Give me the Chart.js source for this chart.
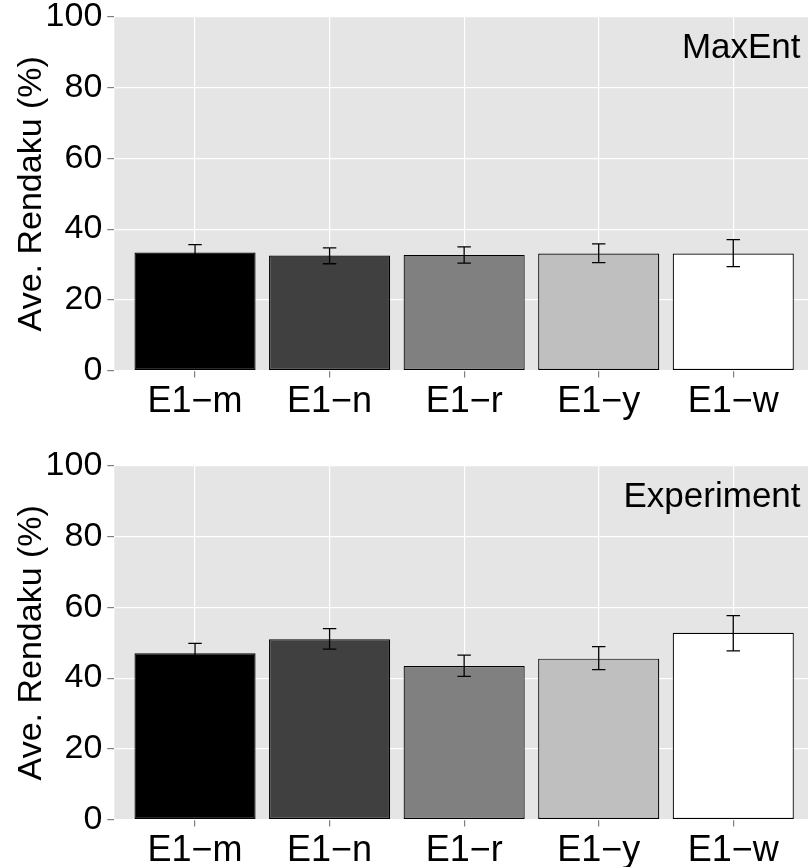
<!DOCTYPE html>
<html><head><meta charset="utf-8">
<script src="https://cdn.jsdelivr.net/npm/chart.js@4"></script>
<style>
html,body{margin:0;padding:0;overflow:hidden;background:#fff;width:808px;height:867px}
.w{position:absolute;left:0;width:814px;height:430px}
canvas{display:block}
</style></head><body>
<div class="w" style="top:0"><canvas id="c1" width="814" height="430"></canvas></div>
<div class="w" style="top:449px"><canvas id="c2" width="814" height="430"></canvas></div>
<script>
const categories = ['E1\u2212m','E1\u2212n','E1\u2212r','E1\u2212y','E1\u2212w'];
const barColors = ['#000000','#404040','#808080','#BFBFBF','#FFFFFF'];
const maxentMeans = [33.4, 32.5, 32.7, 33.1, 33.1];
const maxentLow   = [31.2, 30.2, 30.4, 30.5, 29.4];
const maxentHigh  = [35.6, 34.7, 35.0, 35.8, 37.0];
const expMeans = [47.0, 51.0, 43.4, 45.5, 52.8];
const expLow   = [44.2, 48.2, 40.5, 42.4, 47.7];
const expHigh  = [49.8, 54.0, 46.5, 48.9, 57.7];
const yTickLabels = [0, 20, 40, 60, 80, 100];
const panelLabels = ['MaxEnt', 'Experiment'];
const yTitle = 'Ave. Rendaku (%)';

Chart.defaults.font.family = "'Liberation Sans', Arial, sans-serif";
Chart.defaults.color = '#000000';

function makeChart(id, means, low, high, label) {
  const bgPlugin = {
    id: 'panelBg',
    beforeDraw(chart) {
      const {ctx, chartArea: a} = chart;
      ctx.save();
      ctx.fillStyle = '#E5E5E5';
      ctx.fillRect(a.left, a.top, a.right - a.left, a.bottom - a.top);
      ctx.restore();
    }
  };
  const errPlugin = {
    id: 'errBars',
    afterDatasetsDraw(chart) {
      const {ctx} = chart;
      const xs = chart.scales.x, ys = chart.scales.y;
      ctx.save();
      ctx.strokeStyle = '#000000';
      ctx.lineWidth = 1.3;
      for (let i = 0; i < means.length; i++) {
        const xc = xs.getPixelForValue(i + 1);
        const x0 = xs.getPixelForValue(i + 1 - 0.05);
        const x1 = xs.getPixelForValue(i + 1 + 0.05);
        const yl = ys.getPixelForValue(low[i]);
        const yh = ys.getPixelForValue(high[i]);
        ctx.beginPath();
        ctx.moveTo(xc, yl); ctx.lineTo(xc, yh);
        ctx.moveTo(x0, yl); ctx.lineTo(x1, yl);
        ctx.moveTo(x0, yh); ctx.lineTo(x1, yh);
        ctx.stroke();
      }
      ctx.restore();
    }
  };
  const labelPlugin = {
    id: 'panelLabel',
    afterDraw(chart) {
      const {ctx} = chart;
      const xs = chart.scales.x, ys = chart.scales.y;
      ctx.save();
      ctx.font = "35px 'Liberation Sans', Arial, sans-serif";
      ctx.fillStyle = '#000000';
      ctx.textAlign = 'right';
      ctx.textBaseline = 'alphabetic';
      ctx.fillText(label, xs.getPixelForValue(5.5), ys.getPixelForValue(88.5));
      ctx.restore();
    }
  };
  return new Chart(document.getElementById(id), {
    type: 'bar',
    data: {
      datasets: [{
        data: means.map((v, i) => ({x: i + 1, y: v})),
        backgroundColor: barColors,
        borderColor: '#000000',
        borderWidth: 1.2,
        borderSkipped: false,
        barPercentage: 0.9,
        categoryPercentage: 1.0
      }]
    },
    options: {
      responsive: false,
      animation: false,
      devicePixelRatio: 1,
      layout: {padding: {top: 17, left: 0, right: 0, bottom: 0}},
      plugins: {legend: {display: false}, tooltip: {enabled: false}},
      scales: {
        x: {
          type: 'linear',
          offset: false,
          min: 0.4, max: 5.6,
          afterBuildTicks(axis) { axis.ticks = categories.map((c, i) => ({value: i + 1})); },
          afterFit(axis) { axis.height = 59.5; axis.paddingLeft = 0; axis.paddingRight = 0; },
          ticks: {
            autoSkip: false, maxRotation: 0, padding: 3,
            font: {size: 36},
            color: '#000000',
            callback: (v) => categories[Math.round(v) - 1]
          },
          grid: {offset: false, color: '#FFFFFF', lineWidth: 1.2, tickLength: 7, tickColor: '#7F7F7F', tickWidth: 1.2},
          border: {display: false}
        },
        y: {
          min: 0, max: 100,
          afterBuildTicks(axis) {
            const t = [];
            for (let v = 0; v <= 100; v += 10) t.push({value: v});
            axis.ticks = t;
          },
          afterFit(axis) { axis.width = 114.3; axis.paddingTop = 0; axis.paddingBottom = 0; },
          ticks: {
            padding: 5,
            font: {size: 34},
            color: '#000000',
            callback: (v) => (yTickLabels.includes(v) ? String(v) : '')
          },
          grid: {
            color: (c) => (yTickLabels.includes(c.tick.value) ? '#FFFFFF' : '#F2F2F2'),
            lineWidth: (c) => (yTickLabels.includes(c.tick.value) ? 1.2 : 0.8),
            tickLength: 7,
            tickWidth: 1.2,
            tickColor: (c) => (yTickLabels.includes(c.tick.value) ? '#7F7F7F' : 'rgba(0,0,0,0)')
          },
          border: {display: false},
          title: {display: true, text: yTitle, font: {size: 34}, color: '#000000', padding: {top: 11, bottom: 0}}
        }
      }
    },
    plugins: [bgPlugin, errPlugin, labelPlugin]
  });
}

makeChart('c1', maxentMeans, maxentLow, maxentHigh, panelLabels[0]);
makeChart('c2', expMeans, expLow, expHigh, panelLabels[1]);
</script>
</body></html>
